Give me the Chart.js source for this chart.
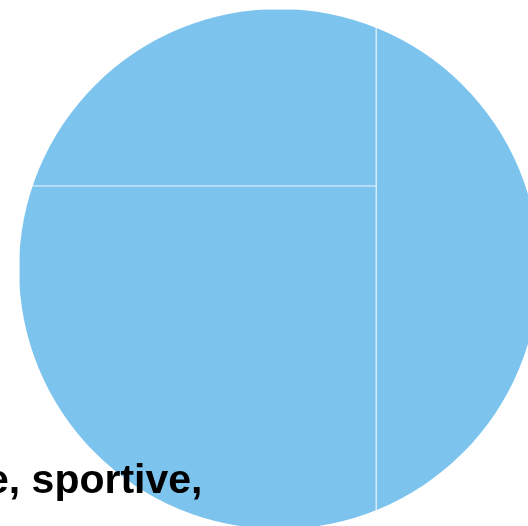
<!DOCTYPE html>
<html>
<head>
<meta charset="utf-8">
<script src="https://cdn.jsdelivr.net/npm/chart.js@4"></script>
<style>
  html, body { margin: 0; padding: 0; background: #ffffff; overflow: hidden; }
  #wrap { width: 528px; height: 526px; }
</style>
</head>
<body>
<div id="wrap"><canvas id="my-chart" width="528" height="526"></canvas></div>
<script>
// cellules du treemap
const cellNames = ['droite', 'haut gauche', 'bas gauche'];
const cellValues = [31.4, 23.3, 45.3];
const cellLabels = ['', '', 'e, sportive,'];
const cellColor = '#7cc4ee';

// découpe simple : colonne de droite, puis la gauche coupée en deux
function layoutCells(values) {
    const total = values.reduce((a, b) => a + b, 0);
    const leftW = (values[1] + values[2]) / total;
    const topH = values[1] / (values[1] + values[2]);
    return [
        { x0: leftW, x1: 1, y0: 0, y1: 1 },
        { x0: 0, x1: leftW, y0: 0, y1: topH },
        { x0: 0, x1: leftW, y0: topH, y1: 1 }
    ];
}

const treemapPlugin = {
    id: 'circleTreemap',
    afterDatasetsDraw(chart) {
        const ctx = chart.ctx;
        const xs = chart.scales.x;
        const ys = chart.scales.y;
        const cells = layoutCells(cellValues);

        const cx = xs.getPixelForValue(0.5);
        const cy = ys.getPixelForValue(0.5);
        const r = Math.abs(xs.getPixelForValue(1) - xs.getPixelForValue(0)) / 2;

        ctx.save();
        ctx.beginPath();
        ctx.arc(cx, cy, r, 0, Math.PI * 2);
        ctx.clip();

        cells.forEach(c => {
            const px0 = xs.getPixelForValue(c.x0);
            const px1 = xs.getPixelForValue(c.x1);
            const py0 = ys.getPixelForValue(c.y0);
            const py1 = ys.getPixelForValue(c.y1);
            ctx.fillStyle = cellColor;
            ctx.fillRect(px0, py0, px1 - px0, py1 - py0);
            ctx.strokeStyle = 'rgba(255,255,255,0.6)';
            ctx.lineWidth = 1;
            ctx.strokeRect(px0 + 0.5, py0 + 0.5, px1 - px0, py1 - py0);
        });
        ctx.restore();

        // étiquette (coupée à gauche comme sur l'original)
        ctx.save();
        ctx.fillStyle = '#000000';
        ctx.font = 'bold 41px "Liberation Sans", Arial, sans-serif';
        ctx.textAlign = 'left';
        ctx.textBaseline = 'alphabetic';
        ctx.fillText(cellLabels[2], -14, 493);
        ctx.restore();
    }
};

// le carré [0,1] englobe le cercle : 520 px de côté, coin en (19, 9)
const side = 520;
const ctx = document.getElementById('my-chart').getContext('2d');
new Chart(ctx, {
    type: 'scatter',
    data: {
        datasets: [{
            label: 'cellules',
            data: [],
            pointRadius: 0
        }]
    },
    options: {
        responsive: false,
        animation: false,
        layout: { padding: 0 },
        plugins: {
            legend: { display: false },
            tooltip: { enabled: false },
            title: { display: false }
        },
        scales: {
            x: {
                type: 'linear',
                display: false,
                min: -19 / side,
                max: (528 - 19) / side
            },
            y: {
                type: 'linear',
                display: false,
                reverse: true,
                min: -9 / side,
                max: (526 - 9) / side
            }
        }
    },
    plugins: [treemapPlugin]
});
</script>
</body>
</html>
